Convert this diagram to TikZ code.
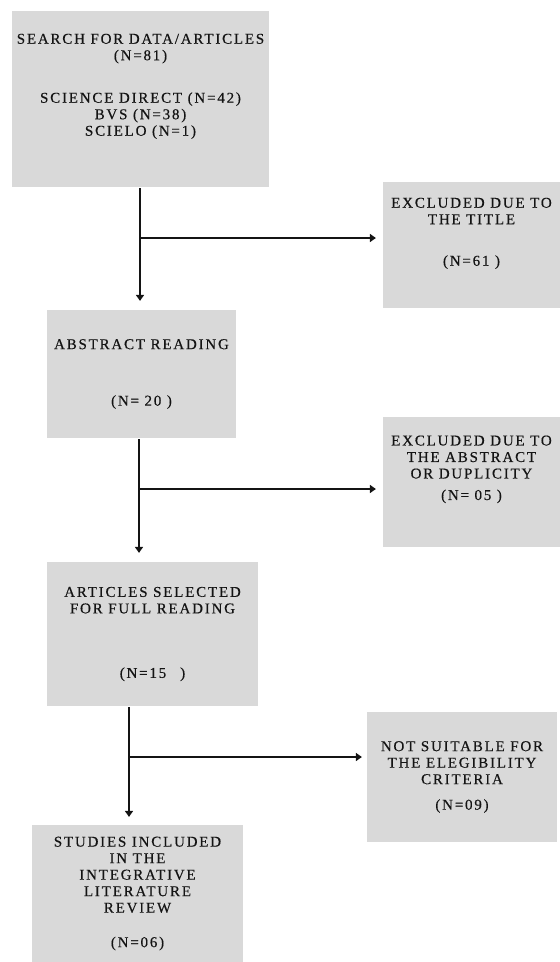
\documentclass[tikz,border=0pt]{standalone}
\usepackage{fontspec}
\setmainfont{Liberation Serif}[LetterSpace=12, FakeBold=0.4]
\usepackage{xcolor}
\usetikzlibrary{arrows.meta, positioning}
\definecolor{boxgray}{HTML}{D9D9D9}
\definecolor{inkdark}{HTML}{141414}
\tikzset{
    flowchart/.style={x=1pt, y=-1pt, line width=2.2pt},
    box/.style={fill=boxgray, text=inkdark, align=center, inner sep=0pt,
        font=\fontsize{15}{16.5}\selectfont},
    link/.style={-{Triangle[length=6pt, width=8pt]}, draw=inkdark, shorten >=7pt},
    branch/.style={coordinate},
}

\begin{document}
\begin{tikzpicture}[flowchart]
    \useasboundingbox (0,0) rectangle (560,962);

    % main column
    \node[box, minimum width=257pt, minimum height=176pt] (search) at (140.5,99)
        {SEARCH FOR DATA/ARTICLES\\(N=81)\\[26pt]SCIENCE DIRECT (N=42)\\BVS (N=38)\\SCIELO (N=1)\\[12pt]};
    \node[box, minimum width=189pt, minimum height=128pt] (abstract) at (141.5,374)
        {ABSTRACT READING\\[40pt](N= 20 )};
    \node[box, minimum width=211pt, minimum height=144pt] (fullread) at (152.5,634)
        {ARTICLES SELECTED\\FOR FULL READING\\[48pt](N=15\hspace{14pt})};
    \node[box, minimum width=211pt, minimum height=137pt] (included) at (137.5,893.5)
        {STUDIES INCLUDED\\IN THE\\INTEGRATIVE\\LITERATURE\\REVIEW\\[18pt](N=06)};

    % excluded boxes
    \node[box, minimum width=177pt, minimum height=126pt] (bytitle) at (471.5,245)
        {EXCLUDED DUE TO\\THE TITLE\\[25pt](N=61 )\\[10pt]};
    \node[box, minimum width=177pt, minimum height=130pt] (byabstract) at (471.5,482)
        {EXCLUDED DUE TO\\THE ABSTRACT\\OR DUPLICITY\\[5pt](N= 05 )\\[12pt]};
    \node[box, minimum width=190pt, minimum height=130pt] (bycriteria) at (462,777)
        {NOT SUITABLE FOR\\THE ELEGIBILITY\\CRITERIA\\[9pt](N=09)};

    \coordinate[branch] (j1) at (140,238);
    \coordinate[branch] (j2) at (139,489);
    \coordinate[branch] (j3) at (129,757);

    \draw[link, shorten >=8pt] (search.south -| j1) -- (abstract.north -| j1);
    \draw[link, shorten >=6pt] (j1) -- (bytitle.west |- j1);
    \draw[link, shorten >=8pt] (abstract.south -| j2) -- (fullread.north -| j2);
    \draw[link, shorten >=6pt] (j2) -- (byabstract.west |- j2);
    \draw[link] (fullread.south -| j3) -- (included.north -| j3);
    \draw[link, shorten >=4pt] (j3) -- (bycriteria.west |- j3);
\end{tikzpicture}
\end{document}
